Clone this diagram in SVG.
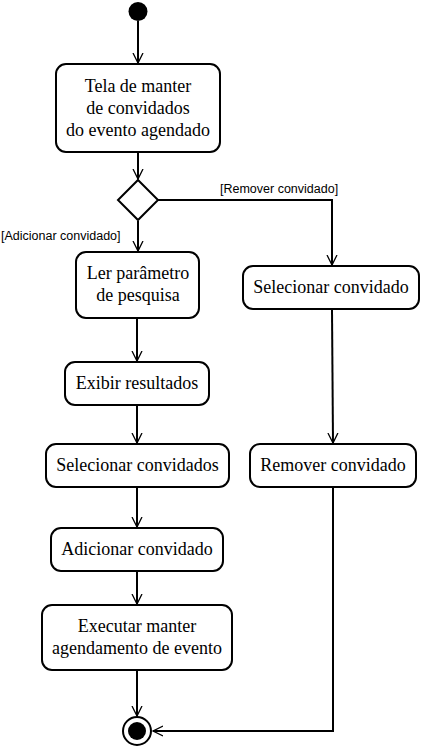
<svg xmlns="http://www.w3.org/2000/svg" width="423" height="749" viewBox="0 0 423 749">
<style>
.box{fill:#fff;stroke:#000;stroke-width:2}
.t{font-family:"Liberation Serif",serif;font-size:18px;fill:#000;text-anchor:middle}
.g{font-family:"Liberation Sans",sans-serif;font-size:12.5px;fill:#000}
.c{fill:none;stroke:#000;stroke-width:2}
</style>
<defs>
<marker id="a" markerWidth="12" markerHeight="12" refX="10" refY="6" orient="auto" markerUnits="userSpaceOnUse">
<path d="M0,1 L10,6 L0,11" fill="none" stroke="#000" stroke-width="1.3"/>
</marker>
</defs>
<g id="start"><circle cx="138" cy="11.5" r="9.5" fill="#000"/></g>
<g id="n1"><rect class="box" x="56" y="64" width="164" height="88" rx="10"/>
<text class="t" x="138" y="92">Tela de manter</text>
<text class="t" x="138" y="114">de convidados</text>
<text class="t" x="138" y="136">do evento agendado</text></g>
<g id="decision"><path class="box" d="M138,180 L158,200 L138,220 L118,200 Z"/></g>
<g id="n2"><rect class="box" x="76" y="252" width="123" height="66" rx="10"/>
<text class="t" x="138" y="279">Ler parâmetro</text>
<text class="t" x="138" y="301">de pesquisa</text></g>
<g id="n3"><rect class="box" x="65" y="362" width="144" height="43" rx="10"/>
<text class="t" x="137" y="389">Exibir resultados</text></g>
<g id="n4"><rect class="box" x="46" y="444" width="183" height="43" rx="10"/>
<text class="t" x="137.5" y="471">Selecionar convidados</text></g>
<g id="n5"><rect class="box" x="51" y="528" width="172" height="43" rx="10"/>
<text class="t" x="137" y="555">Adicionar convidado</text></g>
<g id="n6"><rect class="box" x="42" y="605" width="190" height="65" rx="10"/>
<text class="t" x="137" y="632">Executar manter</text>
<text class="t" x="137" y="654">agendamento de evento</text></g>
<g id="n7"><rect class="box" x="243" y="266" width="176" height="43" rx="10"/>
<text class="t" x="331" y="293">Selecionar convidado</text></g>
<g id="n8"><rect class="box" x="250" y="444" width="166" height="43" rx="10"/>
<text class="t" x="333" y="471">Remover convidado</text></g>
<g id="end"><circle cx="137" cy="731" r="14" fill="#fff" stroke="#000" stroke-width="2"/><circle cx="137" cy="731" r="9" fill="#000"/></g>
<g id="connectors">
<line class="c" x1="138" y1="21" x2="138" y2="63" marker-end="url(#a)"/>
<line class="c" x1="138" y1="153" x2="138" y2="179" marker-end="url(#a)"/>
<line class="c" x1="138" y1="221" x2="138" y2="251" marker-end="url(#a)"/>
<polyline class="c" points="158,200 332,200 332,265" marker-end="url(#a)"/>
<line class="c" x1="137" y1="319" x2="137" y2="361" marker-end="url(#a)"/>
<line class="c" x1="137" y1="406" x2="137" y2="443" marker-end="url(#a)"/>
<line class="c" x1="137" y1="488" x2="137" y2="527" marker-end="url(#a)"/>
<line class="c" x1="137" y1="572" x2="137" y2="604" marker-end="url(#a)"/>
<line class="c" x1="137" y1="671" x2="137" y2="716" marker-end="url(#a)"/>
<line class="c" x1="332" y1="310" x2="333" y2="443" marker-end="url(#a)"/>
<polyline class="c" points="333,488 333,731 153,731" marker-end="url(#a)"/>
<text class="g" x="220" y="193">[Remover convidado]</text>
<text class="g" x="1" y="240">[Adicionar convidado]</text>
</g>
</svg>
